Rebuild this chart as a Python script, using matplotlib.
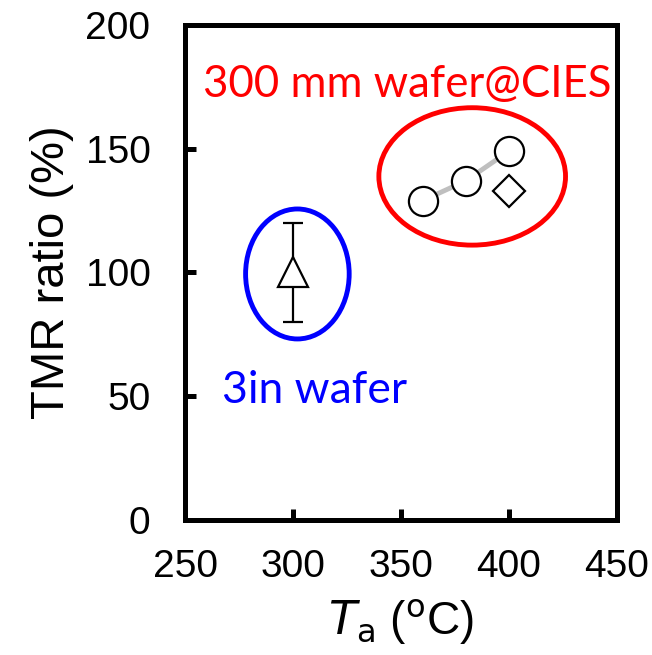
import matplotlib.pyplot as plt
from matplotlib.patches import Ellipse

# 300 mm wafer data
ta_300 = [360, 380, 400]
tmr_300 = [129, 137, 149]
ta_diamond = [400]
tmr_diamond = [133]

# 3 inch wafer data
ta_3in = [300]
tmr_3in = [100]
tmr_3in_err = [20]

x_ticks = [250, 300, 350, 400, 450]
y_ticks = [0, 50, 100, 150, 200]

plt.rcParams['font.family'] = ['Liberation Sans', 'DejaVu Sans']

fig = plt.figure(figsize=(6.52, 6.55), dpi=100)
ax = fig.add_axes([0.284, 0.206, 0.662, 0.756])

ax.plot(ta_300, tmr_300, color='#bfbfbf', lw=3.5, zorder=2)
ax.plot(ta_300, tmr_300, 'o', ms=21, mfc='white', mec='black', mew=1.6, zorder=3)
ax.plot(ta_diamond, tmr_diamond, 'D', ms=16, mfc='white', mec='black', mew=1.6, zorder=3)
ax.errorbar(ta_3in, tmr_3in, yerr=tmr_3in_err, fmt='none', ecolor='black',
            elinewidth=1.6, capsize=7, capthick=1.6, zorder=2)
ax.plot(ta_3in, tmr_3in, '^', ms=22, mfc='white', mec='black', mew=1.6, zorder=3)

ax.add_patch(Ellipse((383, 138.8), 86.5, 55.5, fill=False, ec='#ff0000', lw=3.5, zorder=1))
ax.add_patch(Ellipse((302, 99.4), 48, 52.5, fill=False, ec='#0000ff', lw=3.5, zorder=1))

ax.text(353, 171, '300 mm wafer@CIES', color='#ff0000', fontsize=31.5,
        family=['Lato', 'DejaVu Sans'], ha='center', va='baseline')
ax.text(310, 47.3, '3in wafer', color='#0000ff', fontsize=32,
        family=['Lato', 'DejaVu Sans'], ha='center', va='baseline')

ax.set_xlim(250, 450)
ax.set_ylim(0, 200)
ax.set_xticks(x_ticks)
ax.set_yticks(y_ticks)
for s in ['top', 'right', 'left', 'bottom']:
    ax.spines[s].set_linewidth(3.6)
ax.tick_params(direction='in', length=8, width=3.6, labelsize=28)
ax.tick_params(axis='y', pad=25)
ax.tick_params(axis='x', pad=21)

ax.set_ylabel('TMR ratio (%)', fontsize=34, labelpad=8)
ax.set_xlabel(r'$\mathit{T}_{\mathrm{a}}$ ($^{\mathrm{o}}$C)', fontsize=33, labelpad=9)

fig.savefig('out.png', dpi=100)
